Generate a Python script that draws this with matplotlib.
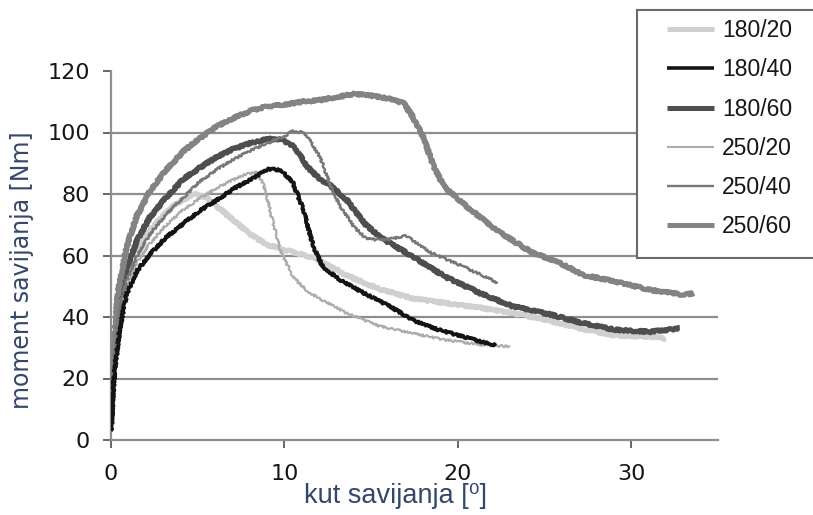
import matplotlib
matplotlib.use("Agg")
import matplotlib.pyplot as plt
from matplotlib.patches import Rectangle

# ---- data ----
labels = ["180/20", "180/40", "180/60", "250/20", "250/40", "250/60"]

x_180_20 = [0, 0.15, 0.4, 0.9, 1.5, 2.25, 3.0, 3.8, 4.75, 5.5, 6.1, 7.05, 8.0, 9.0, 9.9,
            10.9, 11.8, 13.6, 15.5, 17.4, 19.3, 21.3, 23.2, 25.2, 27.2, 29.1, 31.1, 32.0]
y_180_20 = [5, 26, 42, 54, 62, 68, 73, 77, 80, 79, 76, 71.5, 67, 63.5, 62,
            60.5, 59, 53.5, 49, 46, 44.5, 43, 41.2, 39, 36, 34, 33.6, 33]

x_180_40 = [0, 0.2, 0.5, 0.9, 1.5, 2.25, 3.2, 4.2, 5.1, 6.1, 7.0, 8.0, 8.6, 9.0, 9.5,
            9.9, 10.5, 11.1, 11.66, 12.2, 13.2, 14.6, 16.1, 17.4, 18.8, 20.3, 21.7, 22.2]
y_180_40 = [3, 22, 36, 47.5, 55, 60.5, 66, 70.5, 74.5, 78, 81.5, 84.5, 86.5, 88, 88,
            87.3, 83.5, 74.8, 63, 56.4, 52, 47.7, 43.4, 39, 36, 33.6, 31.4, 30.9]

x_180_60 = [0, 0.15, 0.4, 0.9, 1.5, 2.25, 3.2, 4.2, 5.1, 6.1, 7.0, 8.0, 9.0, 9.6, 10.3,
            10.7, 11.3, 12.0, 12.6, 13.6, 14.6, 15.5, 17.4, 19.3, 21.3, 23.2, 25.2,
            27.2, 29.1, 31.1, 32.8]
y_180_60 = [5, 28, 43, 56, 65, 72.5, 79, 85, 88.5, 92, 94.5, 96.5, 97.8, 98, 96.5,
            94.3, 89, 85, 83, 78, 70.5, 66, 59.6, 53, 47.7, 43.4, 41, 38, 35.8, 35.2, 36.3]

x_250_20 = [0, 0.15, 0.4, 0.9, 1.5, 2.25, 3.2, 4.2, 5.1, 6.1, 7.0, 7.8, 8.4, 8.8, 9.2,
            9.75, 10.5, 11.3, 12.0, 13.6, 15.5, 17.4, 19.3, 21.3, 23.0]
y_250_20 = [4, 24, 38, 50, 58, 64, 70, 75, 78.5, 82, 84.5, 86.5, 87, 83, 74,
            62, 53, 48.5, 46, 41.2, 37, 34.7, 32.5, 31, 30.4]

x_250_40 = [0, 0.15, 0.4, 0.9, 1.5, 2.25, 3.2, 4.2, 5.1, 6.1, 7.0, 8.0, 9.0, 9.9, 10.5,
            11.0, 11.3, 12.05, 12.6, 13.2, 14.0, 14.7, 15.5, 16.3, 17.0, 18.4, 20.3, 22.0, 22.3]
y_250_40 = [5, 25, 40, 52, 60, 67, 73.5, 79, 84, 88, 91, 94, 96.5, 98.5, 100.5,
            100, 99, 92, 83.5, 76, 69.4, 65.5, 65, 65.5, 66.5, 61, 56.4, 52, 51]

x_250_60 = [0, 0.15, 0.4, 0.9, 1.5, 2.25, 3.2, 4.2, 5.1, 6.1, 7.0, 8.0, 9.0, 9.9, 11.0,
            12.0, 13.0, 14.0, 15.0, 16.0, 16.9, 17.4, 18.0, 18.6, 19.2, 20.5, 22.2,
            24.2, 25.9, 27.2, 29.1, 31.1, 33.0, 33.6]
y_250_60 = [5, 30, 48, 63, 73, 81, 88, 94, 98, 102, 104.5, 107, 108.5, 109, 110,
            110.5, 111.5, 112.5, 112, 111, 109.5, 105, 98.6, 89, 82.4, 76, 68.3,
            61.2, 57.5, 53.7, 51.5, 48.8, 47.2, 47.7]

xs = [x_180_20, x_180_40, x_180_60, x_250_20, x_250_40, x_250_60]
ys = [y_180_20, y_180_40, y_180_60, y_250_20, y_250_40, y_250_60]

x_ticks = [0, 10, 20, 30]
y_ticks = [0, 20, 40, 60, 80, 100, 120]

# ---- styles ----
colors = ["#d0d0d0", "#141414", "#4e4e4e", "#acacac", "#777777", "#838383"]
widths = [3.6, 2.6, 3.6, 1.5, 1.7, 3.6]
zorders = [2, 6, 4, 3, 5, 4]

W, H = 813, 515
fig = plt.figure(figsize=(W / 100, H / 100), dpi=100)
ax = fig.add_axes([111 / W, 1 - 440 / H, (718 - 111) / W, (440 - 71) / H])

lines = []
for x, y, c, lw, z, lab in zip(xs, ys, colors, widths, zorders, labels):
    ln, = ax.plot(x, y, color=c, lw=lw, zorder=z, label=lab,
                  solid_joinstyle="round", solid_capstyle="butt")
    ln.set_sketch_params(scale=1.1, length=3, randomness=3)
    lines.append(ln)

ax.set_xlim(0, 35)
ax.set_ylim(0, 120)
ax.set_xticks(x_ticks)
ax.set_yticks(y_ticks)

grid_c = "#8e8e8e"
ax.yaxis.grid(True, color=grid_c, lw=1.6, zorder=0)
ax.set_axisbelow(True)
ygl = ax.get_ygridlines()
ygl[-1].set_visible(False)
ygl[0].set_visible(False)

for s in ["top", "right"]:
    ax.spines[s].set_visible(False)
for s in ["left", "bottom"]:
    ax.spines[s].set_color(grid_c)
    ax.spines[s].set_linewidth(1.6)

ax.tick_params(axis="both", direction="out", length=6, width=1.4, color="#666666",
               labelsize=16, labelcolor="#161616")
ax.tick_params(axis="y", pad=9)
ax.tick_params(axis="x", pad=11)
for t in ax.get_xticklabels() + ax.get_yticklabels():
    t.set_fontfamily("DejaVu Sans")

label_c = "#34466a"
fig.text(22 / W, 1 - 270 / H, "moment savijanja [Nm]", rotation=90,
         ha="center", va="center", fontsize=17, color=label_c, family="DejaVu Sans")
fig.text(395 / W, 1 - 496 / H, "kut savijanja [⁰]", ha="center", va="center",
         fontsize=19.5, color=label_c, family=["Liberation Sans", "DejaVu Sans"])

# legend frame
frame = Rectangle((637 / W, 1 - 258 / H), (818 - 637) / W, (258 - 10) / H,
                  transform=fig.transFigure, facecolor="white", edgecolor="#6a6a6a",
                  lw=1.5, zorder=4)
fig.add_artist(frame)

leg = fig.legend(handles=lines, labels=labels, loc="upper left",
                 bbox_to_anchor=(667 / W, 1 - 19 / H), bbox_transform=fig.transFigure,
                 frameon=False, borderpad=0, borderaxespad=0,
                 handlelength=2.07, handletextpad=0.32, labelspacing=0.71,
                 prop={"family": "Liberation Sans", "size": 16.5})
leg.set_zorder(5)
for h in leg.legend_handles:
    h.set_sketch_params(None)
for t in leg.get_texts():
    t.set_color("#161616")

fig.savefig("out.png", dpi=100)
